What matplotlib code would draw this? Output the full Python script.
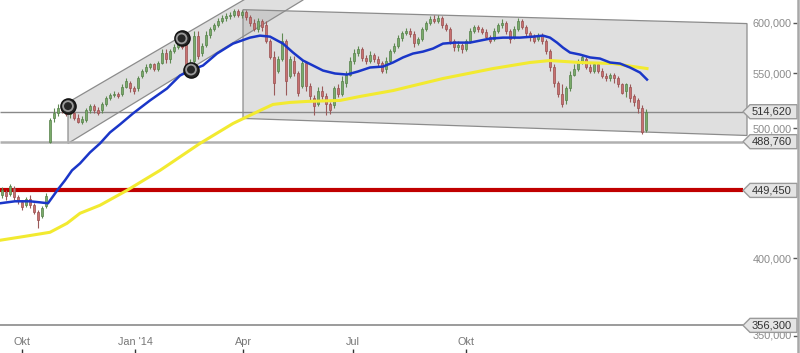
import numpy as np
import matplotlib
matplotlib.use("Agg")
import matplotlib.pyplot as plt
import matplotlib.transforms as mtransforms
from matplotlib.patches import Polygon
from matplotlib.lines import Line2D

plt.rcParams['font.family'] = ['Liberation Sans', 'DejaVu Sans']

# daily candles, prices in thousands (one bar per index)
opens = [445.6, 448.0, 446.4, 451.1, 444.1, 440.3, 438.1, 442.6, 438.1, 432.8, 429.9, 437.3,
         488.1, 508.7, 513.1, 517.5, 515.7, 512.2, 513.1, 509.5, 506.0, 506.9, 515.7, 519.3,
         515.7, 515.7, 521.1, 526.5, 529.2, 531.0, 530.1, 537.4, 541.1, 535.6, 535.6, 546.8,
         552.4, 556.2, 558.2, 554.3, 560.1, 569.8, 563.9, 571.7, 575.7, 579.6, 577.6, 556.2,
         562.0, 586.6, 569.8, 577.6, 587.7, 593.8, 597.9, 602.0, 605.1, 607.2, 608.2, 612.3,
         608.2, 611.3, 606.1, 599.9, 593.8, 602.0, 597.9, 581.6, 565.9, 552.4, 563.9, 581.6,
         547.7, 562.0, 550.5, 538.3, 560.1, 538.3, 526.5, 521.1, 533.7, 528.3, 521.1, 520.2,
         535.6, 530.1, 541.1, 548.6, 562.0, 569.8, 573.7, 564.9, 562.0, 567.8, 563.9, 560.1,
         554.3, 562.0, 571.7, 576.6, 584.6, 589.7, 591.7, 588.7, 579.6, 583.6, 593.8, 599.9,
         604.1, 602.0, 605.1, 597.9, 593.8, 581.6, 575.7, 577.6, 573.7, 581.6, 591.7, 595.8,
         593.8, 590.7, 585.6, 583.6, 591.7, 597.9, 599.9, 591.7, 585.6, 593.8, 602.0, 595.8,
         589.7, 585.6, 583.6, 587.7, 581.6, 571.7, 556.2, 541.1, 530.1, 524.7, 535.6, 548.6,
         554.3, 560.1, 563.9, 556.2, 552.4, 558.2, 552.4, 546.8, 544.9, 548.6, 544.9, 539.3,
         533.7, 537.4, 528.3, 524.7, 517.5, 498.3]
closes = [449.5, 444.9, 452.6, 444.1, 441.1, 436.6, 442.6, 438.1, 432.8, 426.9, 435.8, 444.9,
          506.9, 513.9, 517.5, 515.7, 512.2, 513.1, 509.5, 506.0, 507.8, 515.7, 519.3, 515.7,
          513.9, 521.1, 526.5, 529.2, 531.0, 528.3, 537.4, 543.0, 535.6, 533.7, 544.9, 552.4,
          556.2, 558.2, 554.3, 560.1, 569.8, 563.9, 571.7, 575.7, 581.6, 575.7, 556.2, 560.1,
          586.6, 566.8, 576.6, 587.7, 593.8, 597.9, 602.0, 605.1, 607.2, 608.2, 612.3, 608.2,
          611.3, 606.1, 599.9, 593.8, 602.0, 595.8, 581.6, 565.9, 541.1, 563.9, 581.6, 543.0,
          563.9, 550.5, 531.9, 560.1, 538.3, 528.3, 519.3, 533.7, 528.3, 521.1, 515.7, 535.6,
          530.1, 543.0, 548.6, 562.0, 569.8, 573.7, 564.9, 562.0, 567.8, 563.9, 560.1, 552.4,
          562.0, 571.7, 576.6, 584.6, 589.7, 591.7, 588.7, 579.6, 583.6, 593.8, 599.9, 604.1,
          602.0, 605.1, 597.9, 593.8, 581.6, 575.7, 577.6, 573.7, 581.6, 591.7, 595.8, 593.8,
          590.7, 585.6, 581.6, 591.7, 597.9, 599.9, 591.7, 583.6, 593.8, 602.0, 595.8, 589.7,
          585.6, 581.6, 587.7, 581.6, 571.7, 556.2, 541.1, 530.1, 521.1, 535.6, 548.6, 554.3,
          560.1, 565.9, 556.2, 552.4, 558.2, 552.4, 546.8, 544.9, 548.6, 544.9, 539.3, 531.9,
          539.3, 526.5, 522.9, 517.5, 496.6, 514.6]
highs = [451.9, 449.5, 454.2, 452.6, 445.6, 441.8, 444.1, 445.6, 439.6, 434.3, 437.3, 447.2,
         508.7, 517.5, 521.1, 521.1, 519.3, 515.7, 514.8, 512.2, 510.4, 517.5, 521.1, 521.1,
         518.4, 522.9, 528.3, 531.9, 533.7, 532.8, 539.3, 545.8, 543.0, 538.3, 546.8, 553.9,
         558.2, 560.1, 560.1, 562.0, 573.7, 573.7, 573.7, 578.6, 584.6, 583.6, 581.6, 563.9,
         591.7, 591.7, 579.6, 591.7, 595.8, 599.9, 605.1, 608.2, 610.2, 611.3, 614.6, 614.6,
         613.4, 613.4, 608.2, 604.1, 605.1, 604.1, 602.0, 583.6, 571.7, 566.8, 589.7, 583.6,
         566.8, 566.8, 552.4, 563.9, 562.0, 541.1, 529.2, 537.4, 538.3, 531.9, 522.9, 538.3,
         539.3, 546.8, 552.4, 565.9, 573.7, 576.6, 575.7, 567.8, 571.7, 569.8, 566.8, 562.0,
         565.9, 573.7, 579.6, 587.7, 591.7, 594.8, 594.8, 591.7, 585.6, 595.8, 602.0, 607.2,
         608.2, 608.2, 607.2, 599.9, 595.8, 583.6, 581.6, 579.6, 583.6, 594.8, 597.9, 597.9,
         595.8, 593.8, 587.7, 594.8, 599.9, 604.1, 602.0, 593.8, 596.8, 605.1, 604.1, 597.9,
         591.7, 588.7, 589.7, 589.7, 583.6, 573.7, 558.2, 543.0, 539.3, 538.3, 552.4, 558.2,
         563.9, 567.8, 565.9, 559.1, 560.1, 560.1, 555.3, 549.6, 550.5, 550.5, 547.7, 541.1,
         541.1, 539.3, 530.1, 526.5, 520.2, 516.6]
lows = [443.3, 441.8, 444.9, 441.8, 438.8, 434.3, 436.6, 435.8, 431.3, 421.1, 428.4, 435.8,
        487.3, 505.2, 510.4, 513.1, 510.4, 508.7, 506.9, 504.3, 503.5, 505.2, 513.9, 513.9,
        511.3, 513.1, 519.3, 524.7, 527.4, 526.5, 528.3, 535.6, 532.8, 531.0, 533.7, 544.9,
        550.5, 554.3, 552.4, 552.4, 558.2, 560.1, 560.1, 569.8, 573.7, 573.7, 552.4, 550.5,
        560.1, 563.9, 566.8, 575.7, 584.6, 591.7, 595.8, 599.9, 602.0, 604.1, 606.1, 606.1,
        605.1, 603.0, 596.8, 591.7, 590.7, 591.7, 579.6, 563.9, 529.2, 550.5, 562.0, 529.2,
        544.9, 547.7, 528.3, 535.6, 533.7, 524.7, 511.3, 519.3, 525.6, 511.3, 512.2, 517.5,
        527.4, 528.3, 537.4, 546.8, 559.1, 566.8, 562.0, 559.1, 560.1, 561.0, 557.2, 549.6,
        550.5, 560.1, 569.8, 574.6, 581.6, 587.7, 585.6, 575.7, 577.6, 581.6, 591.7, 597.9,
        599.9, 599.9, 594.8, 591.7, 578.6, 571.7, 571.7, 569.8, 571.7, 579.6, 589.7, 590.7,
        588.7, 583.6, 579.6, 581.6, 589.7, 594.8, 588.7, 579.6, 583.6, 591.7, 593.8, 586.6,
        581.6, 579.6, 581.6, 578.6, 568.8, 552.4, 537.4, 527.4, 518.4, 521.1, 533.7, 546.8,
        552.4, 558.2, 554.3, 550.5, 550.5, 549.6, 544.9, 543.0, 543.0, 541.1, 537.4, 530.1,
        527.4, 522.9, 519.3, 513.9, 494.9, 496.6]

# moving averages (bar position, price in thousands)
ma_fast_x = [-0.5, 3.25, 7, 9.5, 11.5, 12.75, 14, 15.75, 17.5, 19.5, 22, 24.5, 27, 29.5,
             32.75, 37, 41.25, 44.5, 47, 50.25, 53.75, 57.75, 62, 64.5, 67, 70.25, 72.75,
             75.25, 77.75, 80.25, 83.25, 86.25, 89, 92, 95.25, 97.75, 100.25, 102.75, 105.25,
             107.75, 110.25, 113.25, 117, 122, 125.25, 129.5, 132.75, 135.25, 137, 138.75,
             140.25, 142, 144.5, 147, 149.5, 152, 154.5, 157, 159.5, 161.25]
ma_fast = [439.6, 441.1, 441.1, 440.3, 439.6, 444.9, 450.3, 457.3, 465.2, 470.8, 479.8, 487.3,
           496.6, 503.5, 513.1, 524.7, 535.6, 547.7, 552.4, 557.2, 568.8, 578.6, 584.6, 586.6,
           585.6, 578.6, 569.8, 562.0, 557.2, 552.4, 549.6, 548.6, 551.5, 555.3, 556.2, 560.1,
           565.0, 568.8, 570.7, 573.7, 578.6, 579.6, 579.6, 583.6, 584.6, 584.6, 585.6, 586.6,
           584.6, 579.6, 574.6, 569.8, 567.8, 565.0, 563.9, 560.1, 559.1, 555.3, 550.5, 543.9]
ma_slow_x = [-0.5, 5.75, 12, 16.25, 19.5, 24.5, 31.25, 39.5, 49.5, 57.75, 64.5, 67.75, 72,
             76.25, 84.5, 89.5, 97.75, 110.25, 122.75, 132, 137, 144.5, 152.75, 161.25]
ma_slow = [412.5, 415.3, 418.2, 424.7, 432.1, 438.1, 449.5, 465.2, 487.3, 504.3, 515.7, 521.1,
           522.9, 523.8, 524.7, 528.3, 533.7, 544.9, 554.3, 560.1, 562.0, 560.1, 559.1, 554.3]

# trend channels (bar position, price in thousands)
up_channel_x = [16.5, 16.5, 75.25, 75.25]
up_channel_y = [522.9, 487.3, 623.7, 662.0]
down_channel_x = [60.25, 186.25, 186.25, 60.25]
down_channel_y = [613.4, 598.9, 494.0, 508.7]

marker_x = [16.5, 44.9, 47.25]
marker_y = [519.6, 583.8, 553.3]

levels = [514620, 488760, 449450, 356300]
level_labels = ['514,620', '488,760', '449,450', '356,300']
level_colors = ['#8a8a8a', '#b0b0b0', '#c00000', '#8a8a8a']
level_widths = [1.0, 1.8, 3.0, 1.2]

tick_pos = [5, 33.25, 60.25, 87.75, 116]
tick_labels = ['Okt', "Jan '14", 'Apr', 'Jul', 'Okt']
y_ticks = [400000, 500000, 550000, 600000]
y_tick_labels = ['400,000', '500,000', '550,000', '600,000']


def main():
    k = 1000.0
    o = np.array(opens) * k
    c = np.array(closes) * k
    h = np.array(highs) * k
    lo = np.array(lows) * k
    x = np.arange(len(c))

    fig = plt.figure(figsize=(8.0, 3.53), dpi=100)
    fig.patch.set_facecolor('white')
    ax = fig.add_axes([0, 26 / 353, 797 / 800, 327 / 353])
    ax.set_yscale('log')
    ax.set_xlim(-0.5, 198.75)
    ax.set_ylim(355300, 623700)

    # channels
    ax.add_patch(Polygon(np.column_stack([up_channel_x, np.array(up_channel_y) * k]),
                         closed=True, facecolor='#a0a0a0', alpha=0.33,
                         edgecolor='none', zorder=1))
    ax.add_patch(Polygon(np.column_stack([up_channel_x, np.array(up_channel_y) * k]),
                         closed=True, facecolor='none', edgecolor='#8c8c8c',
                         lw=0.9, zorder=1.5))
    ax.add_patch(Polygon(np.column_stack([down_channel_x, np.array(down_channel_y) * k]),
                         closed=True, facecolor='#a0a0a0', alpha=0.33,
                         edgecolor='none', zorder=1))
    ax.add_patch(Polygon(np.column_stack([down_channel_x, np.array(down_channel_y) * k]),
                         closed=True, facecolor='none', edgecolor='#8c8c8c',
                         lw=0.9, zorder=1.5))

    # horizontal levels
    for v, col, lw in zip(levels, level_colors, level_widths):
        ax.plot([-0.5, 185.25], [v, v], color=col, lw=lw, zorder=2,
                solid_capstyle='butt')

    # candles
    up = c >= o
    wick_col = np.where(up, '#5f8a52', '#9a5a5a')
    ax.vlines(x, lo, h, colors=wick_col, lw=0.8, zorder=3)
    body_bot = np.minimum(o, c)
    body_h = np.maximum(np.abs(c - o), 300)
    ax.bar(x[up], body_h[up], bottom=body_bot[up], width=0.7,
           color='#7aab6a', edgecolor='#56804a', lw=0.5, zorder=4)
    ax.bar(x[~up], body_h[~up], bottom=body_bot[~up], width=0.7,
           color='#c87070', edgecolor='#985050', lw=0.5, zorder=4)

    # moving averages
    ax.plot(ma_slow_x, np.array(ma_slow) * k, color='#f2ea30', lw=2.2, zorder=5)
    ax.plot(ma_fast_x, np.array(ma_fast) * k, color='#1a36c8', lw=1.8, zorder=6)

    # channel touch markers
    mx, my = marker_x, np.array(marker_y) * k
    ax.scatter(mx, my, s=120, facecolor='#262626', edgecolor='#111111', lw=1, zorder=7)
    ax.scatter(mx, my, s=50, facecolor='none', edgecolor='#9a9a9a', lw=1.3, zorder=8)

    # axes styling
    for side in ['top', 'left', 'bottom', 'right']:
        ax.spines[side].set_visible(False)
    ax.yaxis.tick_right()
    ax.set_yticks(y_ticks, y_tick_labels)
    ax.yaxis.set_minor_locator(matplotlib.ticker.NullLocator())
    ax.tick_params(axis='y', direction='in', length=3, width=1, color='#555555',
                   pad=-4, labelsize=7.8, labelcolor='#8a8a8a')
    for lbl in ax.get_yticklabels():
        lbl.set_horizontalalignment('right')

    ax.set_xticks(tick_pos, tick_labels)
    ax.tick_params(axis='x', length=0, pad=7, labelsize=7.8, labelcolor='#777777')
    bx = mtransforms.blended_transform_factory(ax.transData, ax.transAxes)
    ax.vlines(tick_pos, -0.0795, -0.067, transform=bx, colors='#333333', lw=1,
              clip_on=False)

    # 350,000 label sits below the plot area
    by = mtransforms.blended_transform_factory(ax.transAxes, ax.transData)
    ax.text(1 - 5.5 / 797, 350000, '350,000', transform=by, ha='right', va='center',
            fontsize=7.8, color='#8a8a8a', clip_on=False, zorder=1)
    ax.add_line(Line2D([1 - 3 / 797, 1], [350000, 350000], transform=by,
                       color='#555555', lw=1, clip_on=False, zorder=1))

    # price tags on the right
    for v, lab in zip(levels, level_labels):
        tr = fig.dpi_scale_trans + mtransforms.ScaledTranslation(1.0, v, by)
        verts = [(-0.54, 0), (-0.47, 0.07), (0, 0.07), (0, -0.07), (-0.47, -0.07)]
        ax.add_patch(Polygon(verts, closed=True, transform=tr, facecolor='#e4e4e4',
                             edgecolor='#9a9a9a', lw=1, clip_on=False, zorder=10))
        ax.text(-0.05, 0, lab, transform=tr, ha='right', va='center', fontsize=8,
                color='#333333', clip_on=False, zorder=11)

    # right border of the chart
    fig.add_artist(Line2D([797.5 / 800, 797.5 / 800], [0, 1], transform=fig.transFigure,
                          color='#a8a8a8', lw=1.8))

    fig.savefig('out.png', dpi=100, facecolor='white')


if __name__ == "__main__":
    main()
